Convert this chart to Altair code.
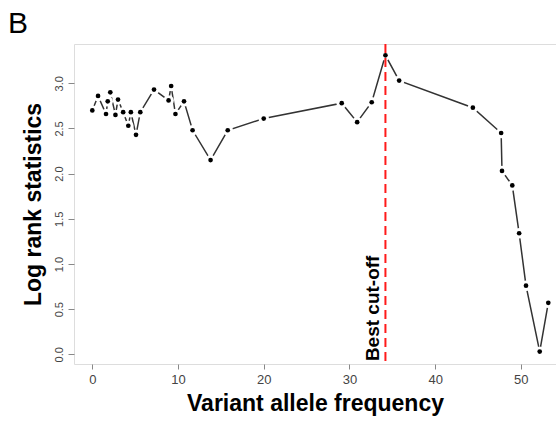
import altair as alt
import pandas as pd

vaf = [0, 0.67, 1.6, 1.8, 2.1, 2.7, 3.0, 3.6, 4.2, 4.5, 5.1, 5.6, 7.2, 8.9, 9.2, 9.7,
       10.7, 11.7, 13.8, 15.8, 20.0, 29.1, 30.9, 32.6, 34.2, 35.8, 44.4, 47.7, 47.8,
       49.0, 49.8, 50.6, 52.2, 53.2]
logrank = [2.70, 2.86, 2.66, 2.80, 2.90, 2.65, 2.82, 2.68, 2.53, 2.68, 2.43, 2.68,
           2.93, 2.81, 2.97, 2.66, 2.80, 2.48, 2.15, 2.48, 2.61, 2.78, 2.57, 2.79,
           3.31, 3.03, 2.73, 2.45, 2.03, 1.87, 1.34, 0.76, 0.03, 0.57]
cutoff = [34.2]
cutoff_label = ["Best cut-off"]
x_ticks = [0, 10, 20, 30, 40, 50]
y_ticks = [0.0, 0.5, 1.0, 1.5, 2.0, 2.5, 3.0]
panel = ["B"]

df = pd.DataFrame({"vaf": vaf, "stat": logrank})
cut_df = pd.DataFrame({"x": cutoff, "label": cutoff_label, "y": [-0.075]})
panel_df = pd.DataFrame({"t": panel})

FONT = "Liberation Sans"
xs = alt.Scale(domain=[-2.135, 54.1], nice=False, zero=False)
ys = alt.Scale(domain=[-0.107, 3.435], nice=False, zero=False)

xenc = alt.X("vaf:Q", scale=xs, axis=alt.Axis(
    values=x_ticks, title="Variant allele frequency", grid=False, domain=False,
    tickColor="#888888", tickSize=5, labelFontSize=13, labelColor="#444444",
    labelFont=FONT, labelPadding=4, titleFont=FONT, titleFontSize=23,
    titleFontWeight="bold", titleColor="#000000", titlePadding=6, format="d"))
yenc = alt.Y("stat:Q", scale=ys, axis=alt.Axis(
    values=y_ticks, title="Log rank statistics", grid=False, domain=False,
    tickColor="#888888", tickSize=6, labelFontSize=11, labelColor="#444444",
    labelFont=FONT, labelAngle=270, labelAlign="center", labelBaseline="bottom",
    labelPadding=4, format=".1f", titleFont=FONT, titleFontSize=23,
    titleFontWeight="bold", titleColor="#000000", titlePadding=8))

base = alt.Chart(df)
line = base.mark_line(color="#333333", strokeWidth=1.5).encode(x=xenc, y=yenc)
gaps = base.mark_circle(color="white", opacity=1, size=110).encode(
    x=alt.X("vaf:Q", scale=xs), y=alt.Y("stat:Q", scale=ys))
rule = alt.Chart(cut_df).mark_rule(color="#ff1a1a", strokeWidth=2, strokeDash=[9, 5]).encode(
    x=alt.X("x:Q", scale=xs))
label = alt.Chart(cut_df).mark_text(
    angle=270, align="left", baseline="alphabetic", font=FONT, fontSize=19,
    fontWeight="bold", color="#000000", dy=-6).encode(
    x=alt.X("x:Q", scale=xs), y=alt.Y("y:Q", scale=ys), text="label:N")
pts = base.mark_circle(color="#000000", opacity=1, size=22).encode(
    x=alt.X("vaf:Q", scale=xs), y=alt.Y("stat:Q", scale=ys))
plabel = alt.Chart(panel_df).mark_text(
    align="left", baseline="alphabetic", font=FONT, fontSize=30, color="#000000").encode(
    x=alt.value(-66), y=alt.value(-11), text="t:N")

chart = alt.layer(line, gaps, rule, label, pts, plabel).properties(
    width=482, height=320,
    autosize=alt.AutoSizeParams(type="none"),
    padding={"left": 74, "top": 44, "right": 0, "bottom": 59},
).configure_view(stroke="#888888", strokeWidth=1).configure(background="white")

chart.save("out.html", embed_options={"renderer": "svg", "actions": False})
